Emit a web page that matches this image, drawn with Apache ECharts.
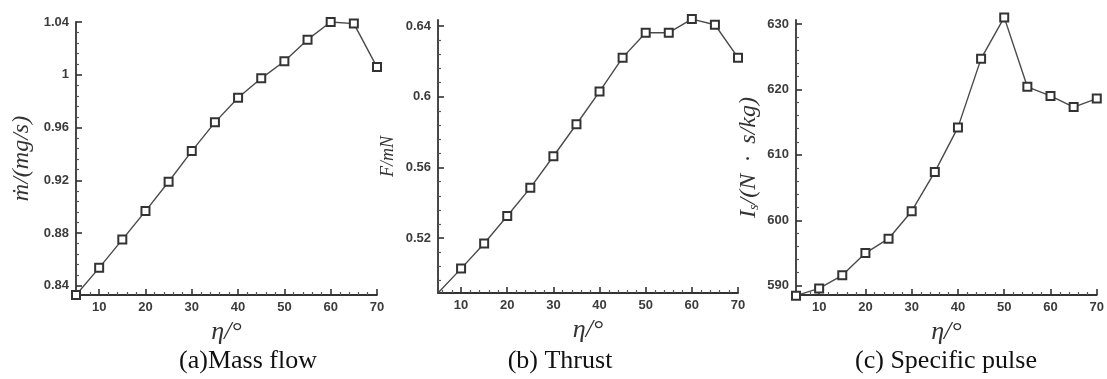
<!DOCTYPE html>
<html>
<head>
<meta charset="utf-8">
<script src="https://cdn.jsdelivr.net/npm/echarts@6/dist/echarts.min.js"></script>
<style>
  html, body { margin: 0; padding: 0; background: #fff; }
  #chart { width: 1107px; height: 379px; }
</style>
</head>
<body>
<div id="chart"></div>
<script>
// incidence angle, deg
const angles = [5, 10, 15, 20, 25, 30, 35, 40, 45, 50, 55, 60, 65, 70];

// (a) mass flow, mg/s
const massFlow = [0.833, 0.8536, 0.875, 0.8966, 0.9189, 0.9421, 0.9639, 0.9826, 0.9973, 1.0102, 1.0266, 1.040, 1.0388, 1.0058];
// (b) thrust, mN
const thrust = [0.489, 0.5028, 0.517, 0.5326, 0.5485, 0.5664, 0.5845, 0.603, 0.6222, 0.6363, 0.6363, 0.644, 0.6408, 0.6222];
// (c) specific impulse, N·s/kg
const specificPulse = [588.5, 589.6, 591.6, 595.0, 597.2, 601.4, 607.4, 614.2, 624.7, 631.0, 620.4, 619.0, 617.3, 618.6];

// tick labels
const xTicks = [10, 20, 30, 40, 50, 60, 70];
const yTicksA = [0.84, 0.88, 0.92, 0.96, 1, 1.04];
const yTicksB = [0.52, 0.56, 0.6, 0.64];
const yTicksC = [590, 600, 610, 620, 630];

const captions = ['(a)Mass flow', '(b) Thrust', '(c) Specific pulse'];

const AXIS_COLOR = '#333';
const LABEL_FONT = 'Liberation Sans, Arial, sans-serif';
const NAME_FONT = 'Liberation Serif, Times New Roman, serif';

// minor ticks: 4 between each pair of majors
const minorsOf = (majors, min, max) => {
  const step = (majors[1] - majors[0]) / 5;
  const out = [];
  for (let v = majors[0] - 4 * step; v <= max + 1e-9; v += step) {
    const r = Math.round(v * 1e6) / 1e6;
    if (r < min - 1e-9) continue;
    if (majors.some((m) => Math.abs(m - r) < step / 10)) continue;
    out.push(r);
  }
  return out;
};

const grids = [
  { left: 76, top: 22, width: 301, height: 273 },
  { left: 438, top: 20, width: 300, height: 273 },
  { left: 796, top: 20, width: 304, height: 275 },
];

const panels = [
  { data: massFlow, yMin: 0.833, yMax: 1.04, yTicks: yTicksA, yName: 'ṁ/(mg/s)', nameSize: 24, nameGap: 42 },
  { data: thrust, yMin: 0.489, yMax: 0.6435, yTicks: yTicksB, yName: 'F/mN', nameSize: 18, nameGap: 41 },
  { data: specificPulse, yMin: 588.6, yMax: 630.6, yTicks: yTicksC, yName: 'I{sub|s}/(N  ·  s/kg)', nameSize: 24, nameGap: 35 },
];

const xAxes = [];
const yAxes = [];
const series = [];

panels.forEach((p, i) => {
  // main x axis
  xAxes.push({
    type: 'value', gridIndex: i, min: 5, max: 70, position: 'bottom',
    name: 'η/°', nameLocation: 'middle', nameGap: 20,
    nameTextStyle: { fontFamily: NAME_FONT, fontStyle: 'italic', fontSize: 26, color: '#333' },
    axisLine: { show: true, lineStyle: { color: AXIS_COLOR, width: 1.8 } },
    axisTick: { show: true, inside: true, length: 6, customValues: xTicks, lineStyle: { color: AXIS_COLOR, width: 1.6 } },
    axisLabel: { customValues: xTicks, margin: 6, fontFamily: LABEL_FONT, fontWeight: 'bold', fontSize: 13, color: '#3c3c3c' },
    splitLine: { show: false },
  });
  // minor x ticks
  xAxes.push({
    type: 'value', gridIndex: i, min: 5, max: 70, position: 'bottom',
    axisLine: { show: true, lineStyle: { color: 'rgba(0,0,0,0)' } },
    axisTick: { show: true, inside: true, length: 3, customValues: minorsOf(xTicks, 5, 70), lineStyle: { color: '#555', width: 1.2 } },
    axisLabel: { show: false },
    splitLine: { show: false },
  });
  // main y axis
  yAxes.push({
    type: 'value', gridIndex: i, min: p.yMin, max: p.yMax, position: 'left',
    name: p.yName, nameLocation: 'middle', nameGap: p.nameGap, nameRotate: 90,
    nameTextStyle: {
      fontFamily: NAME_FONT, fontStyle: 'italic', fontSize: p.nameSize, color: '#333',
      rich: { sub: { fontFamily: NAME_FONT, fontStyle: 'italic', fontSize: 14, color: '#333', verticalAlign: 'bottom', padding: [10, 0, 0, 0] } },
    },
    axisLine: { show: true, lineStyle: { color: AXIS_COLOR, width: 1.8 } },
    axisTick: { show: true, inside: true, length: 6, customValues: p.yTicks, lineStyle: { color: AXIS_COLOR, width: 1.6 } },
    axisLabel: { customValues: p.yTicks, margin: 7, fontFamily: LABEL_FONT, fontWeight: 'bold', fontSize: 13, color: '#3c3c3c' },
    splitLine: { show: false },
  });
  // minor y ticks
  yAxes.push({
    type: 'value', gridIndex: i, min: p.yMin, max: p.yMax, position: 'left',
    axisLine: { show: true, lineStyle: { color: 'rgba(0,0,0,0)' } },
    axisTick: { show: true, inside: true, length: 3, customValues: minorsOf(p.yTicks, p.yMin, p.yMax), lineStyle: { color: '#555', width: 1.2 } },
    axisLabel: { show: false },
    splitLine: { show: false },
  });

  series.push({
    type: 'line',
    xAxisIndex: i * 2,
    yAxisIndex: i * 2,
    clip: false,
    symbol: 'emptyRect',
    symbolSize: 8,
    lineStyle: { color: '#4a4a4a', width: 1.4 },
    itemStyle: { color: '#333', borderWidth: 1.4 },
    data: angles.map((a, k) => {
      // thrust curve starts at the corner with no marker
      if (i === 1 && k === 0) return { value: [a, p.data[k]], symbol: 'none' };
      return [a, p.data[k]];
    }),
  });
});

const captionX = [248, 560, 946];

const chart = echarts.init(document.getElementById('chart'), null, { renderer: 'canvas' });
chart.setOption({
  animation: false,
  backgroundColor: '#fff',
  grid: grids,
  xAxis: xAxes,
  yAxis: yAxes,
  series: series,
  graphic: captions.map((t, i) => ({
    type: 'text',
    x: captionX[i],
    y: 361,
    style: {
      text: t,
      fontFamily: NAME_FONT,
      fontSize: 26,
      fill: '#111',
      align: 'center',
      verticalAlign: 'middle',
    },
  })),
});
</script>
</body>
</html>
